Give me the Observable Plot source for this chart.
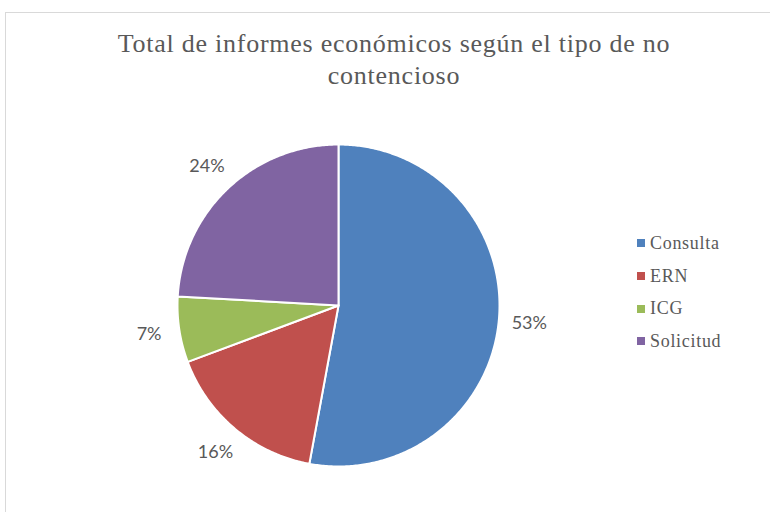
<!DOCTYPE html>
<html>
<head>
<meta charset="utf-8">
<script src="https://cdn.jsdelivr.net/npm/d3@7"></script>
<script src="https://cdn.jsdelivr.net/npm/@observablehq/plot@0.6"></script>
<style>
  html, body { margin: 0; padding: 0; background: #fff; overflow: hidden; }
  #wrap { position: relative; width: 770px; height: 512px; overflow: hidden; }
  #frame { position: absolute; left: 5px; top: 12px; width: 820px; height: 560px; border: 1px solid #d9d9d9; box-sizing: border-box; }
  #chart { position: absolute; left: 0; top: 0; }
  #title { position: absolute; left: 0; width: 788px; top: 28px; text-align: center;
           font-family: "Liberation Serif", serif; font-size: 26px; letter-spacing: 0.75px; line-height: 32px; color: #595959; }
  #legend { position: absolute; left: 637px; top: 227px; font-family: "Liberation Serif", serif; font-size: 18px; letter-spacing: 0.7px; color: #595959; }
  .item { display: flex; align-items: center; height: 32.7px; }
  .sw { width: 8px; height: 8px; margin-right: 5px; }
</style>
</head>
<body>
<div id="wrap">
  <div id="frame"></div>
  <div id="chart"></div>
  <div id="title">Total de informes económicos según el tipo de no<br>contencioso</div>
  <div id="legend"></div>
</div>
<script>
const categories = ["Consulta", "ERN", "ICG", "Solicitud"];
const values = [52.9, 16.4, 6.6, 24.1];
const labels = ["53%", "16%", "7%", "24%"];
const colors = ["#4F81BD", "#C0504D", "#9BBB59", "#8064A2"];

const W = 770, H = 512, R = 161, CX = 338, CY = 305;
const rows = categories.map((c, i) => ({ key: c, value: values[i], label: labels[i] }));
const arcs = d3.pie().sort(null).value(d => d.value)(rows);

// polygon points for each slice (unit radius)
const pts = [];
for (const a of arcs) {
  const k = a.data.key;
  pts.push({ key: k, x: 0, y: 0 });
  const n = Math.max(4, Math.ceil((a.endAngle - a.startAngle) / 0.01));
  for (let j = 0; j <= n; j++) {
    const t = a.startAngle + (a.endAngle - a.startAngle) * j / n;
    pts.push({ key: k, x: Math.sin(t), y: Math.cos(t) });
  }
  pts.push({ key: k, x: 0, y: 0 });
}
const lab = arcs.map(a => {
  const m = (a.startAngle + a.endAngle) / 2;
  return { key: a.data.key, text: a.data.label, x: 1.19 * Math.sin(m), y: 1.19 * Math.cos(m) };
});

const chart = Plot.plot({
  width: W, height: H,
  margin: 0,
  x: { domain: [-CX / R, (W - CX) / R], axis: null },
  y: { domain: [-(H - CY) / R, CY / R], axis: null },
  color: { domain: categories, range: colors },
  style: { background: "transparent" },
  marks: [
    Plot.line(pts, { x: "x", y: "y", z: "key", fill: "key", stroke: "#fff", strokeWidth: 2, strokeLinejoin: "round" }),
    Plot.text(lab, { x: "x", y: "y", text: "text", fill: "#595959", fontSize: 18, fontFamily: "Lato, sans-serif" })
  ]
});
document.getElementById("chart").appendChild(chart);

const leg = document.getElementById("legend");
categories.forEach((c, i) => {
  const it = document.createElement("div");
  it.className = "item";
  const sw = document.createElement("span");
  sw.className = "sw";
  sw.style.background = colors[i];
  const tx = document.createElement("span");
  tx.textContent = c;
  it.appendChild(sw); it.appendChild(tx);
  leg.appendChild(it);
});
</script>
</body>
</html>
